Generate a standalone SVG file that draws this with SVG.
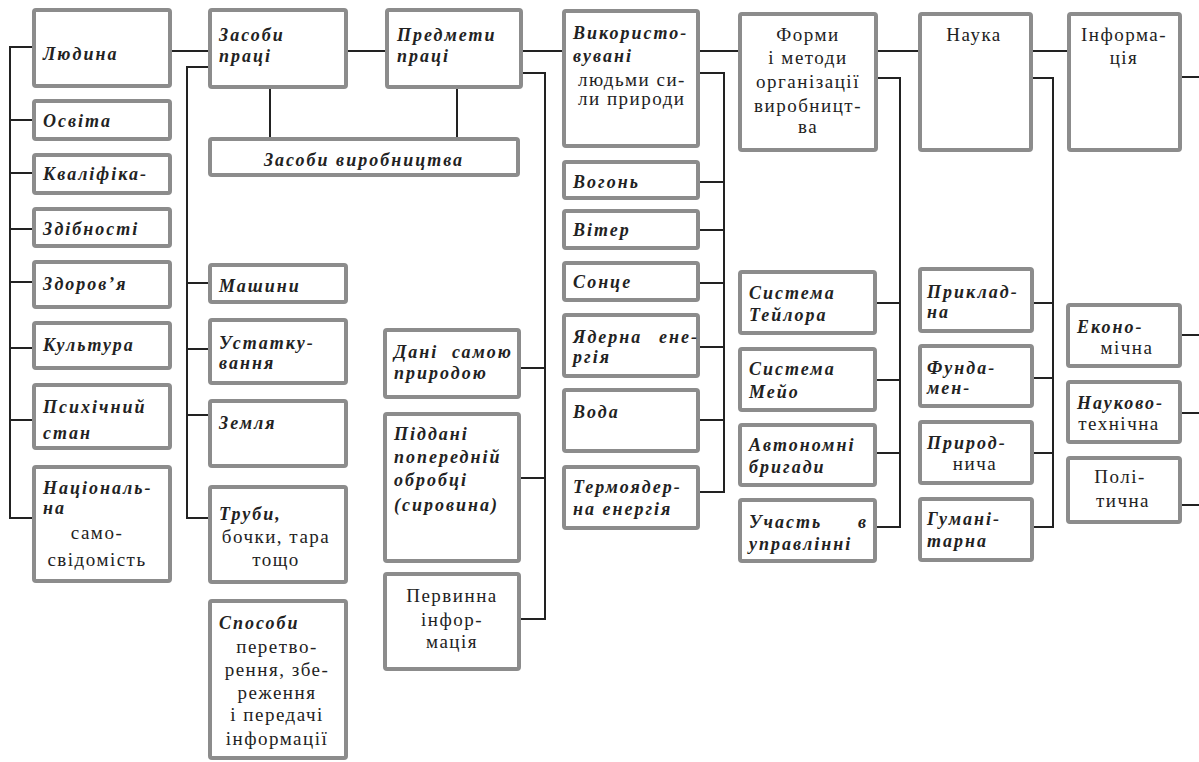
<svg xmlns="http://www.w3.org/2000/svg" width="1199" height="762" viewBox="0 0 1199 762">
<rect width="1199" height="762" fill="#fff"/>
<g id="connectors" stroke="#222" stroke-width="2" fill="none">
<path d="M32 47H10V518H32M10 120H32M10 173H32M10 229H32M10 282H32M10 348H32M10 420H32"/>
<path d="M172 51H208M348 51H385M523 51H562M700 51H738M878 51H918M1031 51H1067"/>
<path d="M270 88V137M457 88V137"/>
<path d="M208 67H187V518H208M187 283H208M187 349H208M187 415H208"/>
<path d="M523 73H545V619H521M545 368H521M545 478H521"/>
<path d="M700 73H724V492H700M724 182H700M724 230H700M724 283H700M724 347H700M724 420H700"/>
<path d="M878 78H900V527H877M900 303H877M900 380H877M900 453H877"/>
<path d="M1031 78H1053V527H1032M1053 303H1032M1053 378H1032M1053 453H1032"/>
<path d="M1181 77H1199M1180 335H1199M1180 413H1199M1180 505H1199"/>
</g>
<g id="boxes" fill="#fff" stroke="#8c8c8c" stroke-width="4">
<rect id="r-lyudyna" x="34" y="10" width="136" height="76" rx="2"/>
<rect id="r-osvita" x="34" y="101" width="136" height="38" rx="2"/>
<rect id="r-kvalifika" x="34" y="155" width="136" height="38" rx="2"/>
<rect id="r-zdibnosti" x="34" y="209" width="136" height="37" rx="2"/>
<rect id="r-zdorovya" x="34" y="262" width="136" height="45" rx="2"/>
<rect id="r-kultura" x="34" y="323" width="136" height="45" rx="2"/>
<rect id="r-psykh" x="34" y="385" width="136" height="63" rx="2"/>
<rect id="r-nats" x="34" y="467" width="136" height="114" rx="2"/>
<rect id="r-zasoby-pratsi" x="210" y="10" width="136" height="77" rx="2"/>
<rect id="r-zasoby-vyrob" x="210" y="139" width="308" height="36" rx="2"/>
<rect id="r-mashyny" x="210" y="265" width="136" height="37" rx="2"/>
<rect id="r-ustatk" x="210" y="320" width="136" height="63" rx="2"/>
<rect id="r-zemlya" x="210" y="401" width="136" height="65" rx="2"/>
<rect id="r-truby" x="210" y="487" width="136" height="95" rx="2"/>
<rect id="r-sposoby" x="210" y="601" width="136" height="157" rx="2"/>
<rect id="r-predmety" x="387" y="10" width="134" height="77" rx="2"/>
<rect id="r-dani" x="385" y="330" width="134" height="67" rx="2"/>
<rect id="r-piddani" x="385" y="414" width="134" height="147" rx="2"/>
<rect id="r-pervynna" x="385" y="574" width="134" height="95" rx="2"/>
<rect id="r-vykoryst" x="564" y="11" width="134" height="135" rx="2"/>
<rect id="r-vogon" x="564" y="162" width="134" height="36" rx="2"/>
<rect id="r-viter" x="564" y="211" width="134" height="37" rx="2"/>
<rect id="r-sontse" x="564" y="263" width="134" height="37" rx="2"/>
<rect id="r-yaderna" x="564" y="315" width="134" height="61" rx="2"/>
<rect id="r-voda" x="564" y="390" width="134" height="61" rx="2"/>
<rect id="r-termo" x="564" y="467" width="134" height="61" rx="2"/>
<rect id="r-formy" x="740" y="14" width="136" height="136" rx="2"/>
<rect id="r-teylor" x="740" y="272" width="135" height="61" rx="2"/>
<rect id="r-meyo" x="740" y="349" width="135" height="61" rx="2"/>
<rect id="r-avtonomni" x="740" y="425" width="135" height="60" rx="2"/>
<rect id="r-uchast" x="740" y="500" width="135" height="61" rx="2"/>
<rect id="r-nauka" x="920" y="14" width="111" height="136" rx="2"/>
<rect id="r-prykladna" x="920" y="269" width="112" height="62" rx="2"/>
<rect id="r-fundamen" x="920" y="346" width="112" height="60" rx="2"/>
<rect id="r-pryrod" x="920" y="422" width="112" height="61" rx="2"/>
<rect id="r-guman" x="920" y="499" width="112" height="61" rx="2"/>
<rect id="r-inform" x="1069" y="14" width="111" height="136" rx="2"/>
<rect id="r-ekon" x="1068" y="305" width="112" height="61" rx="2"/>
<rect id="r-naukovo" x="1068" y="382" width="112" height="60" rx="2"/>
<rect id="r-polit" x="1068" y="458" width="112" height="64" rx="2"/>
</g>
<g id="labels" font-family="Liberation Serif, Times New Roman, serif" fill="#222">
<g id="bold-italic" font-size="18" font-weight="bold" font-style="italic" letter-spacing="2">
<text x="43" y="60">Людина</text>
<text x="43" y="127">Освіта</text>
<text x="43" y="180">Кваліфіка-</text>
<text x="43" y="235">Здібності</text>
<text x="43" y="290">Здоров’я</text>
<text x="43" y="351">Культура</text>
<text x="43" y="413">Психічний</text><text x="43" y="439">стан</text>
<text x="43" y="494">Національ-</text><text x="43" y="514">на</text>
<text x="219" y="41">Засоби</text><text x="219" y="62">праці</text>
<text x="364" y="166" text-anchor="middle">Засоби виробництва</text>
<text x="219" y="292">Машини</text>
<text x="219" y="349">Устатку-</text><text x="219" y="369">вання</text>
<text x="219" y="429">Земля</text>
<text x="219" y="520">Труби,</text>
<text x="219" y="629">Способи</text>
<text x="397" y="41">Предмети</text><text x="397" y="62">праці</text>
<text y="358"><tspan x="394">Дані</tspan><tspan x="452">самою</tspan></text><text x="394" y="379">природою</text>
<text x="394" y="440">Піддані</text><text x="394" y="463">попередній</text><text x="394" y="486">обробці</text><text x="394" y="511">(сировина)</text>
<text x="573" y="39">Використо-</text><text x="573" y="62">вувані</text>
<text x="573" y="188">Вогонь</text>
<text x="573" y="236">Вітер</text>
<text x="573" y="288">Сонце</text>
<text y="343"><tspan x="573">Ядерна</tspan><tspan x="659">ене-</tspan></text><text x="573" y="363">ргія</text>
<text x="573" y="418">Вода</text>
<text x="573" y="493">Термоядер-</text><text x="573" y="515">на енергія</text>
<text x="749" y="299">Система</text><text x="749" y="321">Тейлора</text>
<text x="749" y="375">Система</text><text x="749" y="398">Мейо</text>
<text x="749" y="451">Автономні</text><text x="749" y="473">бригади</text>
<text y="528"><tspan x="749">Участь</tspan><tspan x="858">в</tspan></text><text x="749" y="550">управлінні</text>
<text x="927" y="298">Приклад-</text><text x="927" y="318">на</text>
<text x="927" y="374">Фунда-</text><text x="927" y="394">мен-</text>
<text x="927" y="449">Природ-</text>
<text x="927" y="525">Гумані-</text><text x="927" y="547">тарна</text>
<text x="1077" y="333">Еконо-</text>
<text x="1077" y="409">Науково-</text>
</g>
<g id="regular" font-size="19" letter-spacing="1.5" text-anchor="middle">
<text x="97" y="539">само-</text><text x="97" y="566">свідомість</text>
<text x="276" y="543">бочки, тара</text><text x="276" y="566">тощо</text>
<text x="277" y="653">перетво-</text><text x="277" y="676">рення, збе-</text><text x="277" y="699">реження</text><text x="277" y="721">і передачі</text><text x="277" y="745">інформації</text>
<text x="452" y="602">Первинна</text><text x="452" y="626">інфор-</text><text x="452" y="648">мація</text>
<text x="578" y="86" text-anchor="start">людьми си-</text><text x="578" y="105" text-anchor="start">ли природи</text>
<text x="808" y="41">Форми</text><text x="808" y="64">і методи</text><text x="808" y="88">організації</text><text x="808" y="112">виробницт-</text><text x="808" y="133">ва</text>
<text x="974" y="41">Наука</text>
<text x="975" y="470">нича</text>
<text x="1124" y="41">Інформа-</text><text x="1124" y="64">ція</text>
<text x="1127" y="354">мічна</text>
<text x="1119" y="430">технічна</text>
<text x="1120" y="483">Полі-</text><text x="1123" y="507">тична</text>
</g>
</g>
</svg>
